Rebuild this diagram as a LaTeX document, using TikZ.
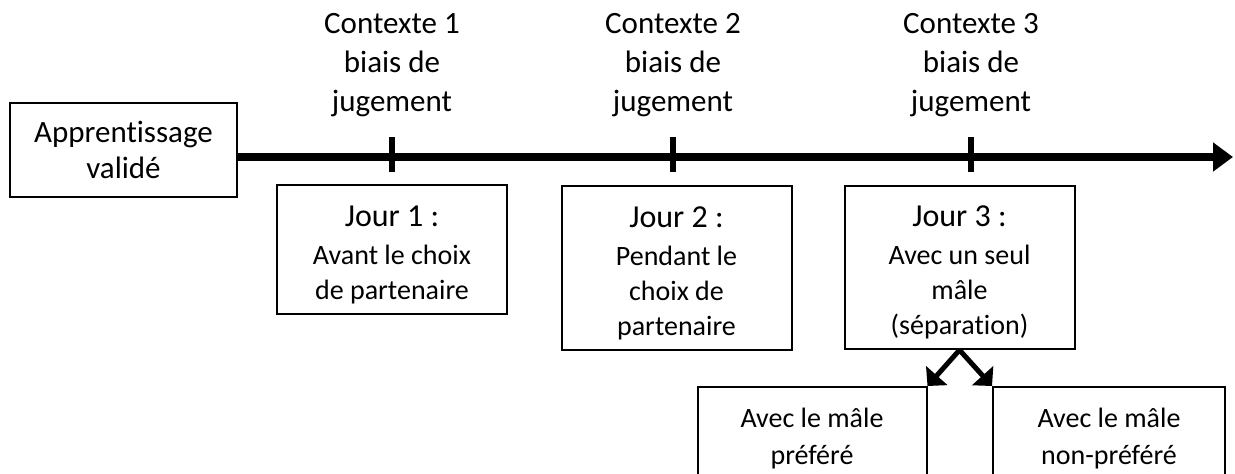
\documentclass[tikz,border=0pt]{standalone}
\usepackage{fontspec}
\setmainfont{Carlito}[Ligatures=NoCommon]
\usetikzlibrary{arrows.meta,positioning}

\begin{document}
\begin{tikzpicture}[x=1pt,y=-1pt,
    boite/.style={draw, line width=2pt, align=center, inner sep=0pt, minimum width=230pt},
    grand/.style={font=\fontsize{31}{39}\selectfont},
    petit/.style={font=\fontsize{28}{35}\selectfont}]
    \useasboundingbox (0,0) rectangle (1235,474);

    \def\jour#1{{\fontsize{32}{39}\selectfont\rule{0pt}{31pt}Jour #1 :}}

    \node[boite, minimum width=227pt, minimum height=94pt,
        font=\fontsize{31}{36}\selectfont] (appr) at (123.5,150) {Apprentissage\\validé};

    % ligne du temps
    \coordinate (fin) at (1233,157);
    \draw[line width=8pt, -{Triangle[length=20pt,width=28pt]}] (appr.east |- fin) -- (fin);

    \foreach \x/\n in {392/1, 673/2, 971/3} {
        \coordinate (t\n) at (\x,157);
        \draw[line width=6pt] ([yshift=20pt]t\n) -- ([yshift=-15pt]t\n);
        \node[grand, align=center, anchor=south] (ctx\n) at (\x,120) {Contexte \n\\biais de\\jugement};
    }

    \node[boite, petit, minimum height=129pt] (j1) at (392,249.5)
        {\jour{1}\\[3pt]Avant le choix\\de partenaire};
    \node[boite, petit, minimum height=164pt] (j2) at (676.5,268)
        {\jour{2}\\[3pt]Pendant le\\choix de\\partenaire};
    \node[boite, petit, minimum height=163pt] (j3) at (959.5,267.5)
        {\jour{3}\\[3pt]Avec un seul\\mâle\\(séparation)};

    \node[boite, petit, minimum width=229pt, minimum height=104pt, anchor=north,
        font=\fontsize{28}{37}\selectfont] (pref) at (812,386)
        {Avec le mâle\\préféré};
    \node[boite, petit, minimum width=232pt, minimum height=104pt, anchor=north,
        font=\fontsize{28}{37}\selectfont] (nonpref) at (1109,386)
        {Avec le mâle\\non-préféré};

    \draw[line width=5pt, -{Triangle[length=14pt,width=28pt]}] (j3.south) -- (pref.north east);
    \draw[line width=5pt, -{Triangle[length=14pt,width=28pt]}] (j3.south) -- (nonpref.north west);
\end{tikzpicture}
\end{document}
